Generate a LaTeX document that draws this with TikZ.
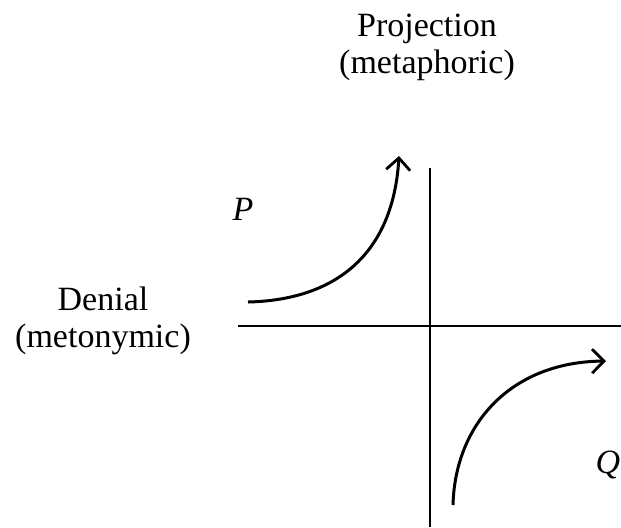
\documentclass[tikz,border=0pt]{standalone}
\usepackage{fontspec}
\setmainfont{Liberation Serif}
\usetikzlibrary{arrows.meta}

\begin{document}
\begin{tikzpicture}[x=0.5pt, y=-0.5pt,
  axis/.style={line width=1.2pt},
  flow/.style={line width=1.5pt, -{Straight Barb[length=6pt, width=12pt, line width=1.4pt]}},
  lbl/.style={font=\fontsize{17}{18.5}\selectfont, align=center, inner sep=0pt},
  var/.style={font=\fontsize{17}{17}\selectfont\itshape, inner sep=0pt},
]
\useasboundingbox (0,0) rectangle (621,527);

% --- Axes ---
\coordinate (vtop) at (430,168);
\coordinate (vbot) at (430,527);
\coordinate (hleft) at (238,326);
\coordinate (hright) at (621,326);
\draw[axis] (vtop) -- (vbot);
\draw[axis] (hleft) -- (hright);

% --- Labels ---
\node[lbl] (proj) at (427,47) {Projection\\(metaphoric)};
\node[lbl] (deny) at (103,321) {Denial\\(metonymic)};
\node[var] (p) at (243,209) {P};
\node[var] (q) at (608,465) {Q};

% --- Curves ---
\coordinate (p0) at (248,302);
\coordinate (p1) at (399,156);
\draw[flow] (p0) .. controls (335,300) and (393,255) .. (p1);
\coordinate (q0) at (453,505);
\coordinate (q1) at (606,361);
\draw[flow] (q0) .. controls (455,425) and (510,362) .. (q1);
\end{tikzpicture}
\end{document}
